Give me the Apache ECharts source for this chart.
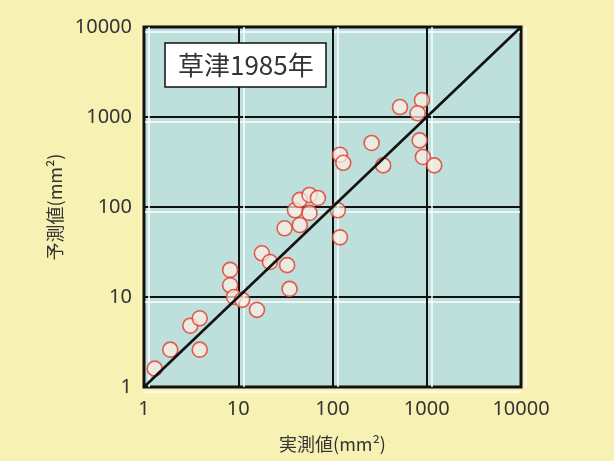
<!DOCTYPE html>
<html>
<head>
<meta charset="utf-8">
<style>
  html, body { margin: 0; padding: 0; background: #f7f1b4; }
  #chart { width: 614px; height: 461px; }
</style>
<script src="https://cdn.jsdelivr.net/npm/echarts@6/dist/echarts.min.js"></script>
</head>
<body>
<div id="chart"></div>
<script>
// Observed (実測値) vs. predicted (予測値) areas, mm², Kusatsu 1985
const observed  = [1.3, 1.9, 3.9, 3.1, 3.9, 8.2, 8.2, 9.0, 11, 15.8, 17.8, 21.7, 33, 35, 31, 40, 45, 57, 70, 57, 45, 114, 120, 120, 130, 260, 345, 520, 890, 800, 840, 910, 1200];
const predicted = [1.6, 2.6, 2.6, 4.8, 5.8, 20, 13.5, 10, 9.3, 7.2, 30.6, 24.5, 22.6, 12.3, 58, 92, 120, 136, 126, 86, 63, 92, 46, 380, 310, 515, 290, 1290, 1540, 1100, 550, 360, 290];
// 1:1 reference line
const identity = [1, 10000];
const titleText = '草津1985年';
const xName = '実測値(mm²)';
const yName = '予測値(mm²)';

const points = observed.map((v, i) => [v, predicted[i]]);
const line = identity.map(v => [v, v]);

const chart = echarts.init(document.getElementById('chart'));
const labelFont = { fontFamily: 'Noto Sans', fontSize: 20, color: '#333' };

chart.setOption({
  backgroundColor: '#f7f1b4',
  animation: false,
  title: {
    text: titleText,
    left: 165, top: 43,
    padding: [9, 13, 9, 13],
    backgroundColor: '#ffffff',
    borderColor: '#111',
    borderWidth: 1.5,
    textStyle: { fontFamily: 'Noto Sans CJK JP', fontSize: 26, fontWeight: 'normal', color: '#333' }
  },
  grid: {
    left: 144, right: 93, top: 27, bottom: 74,
    show: true,
    backgroundColor: '#bee0dc',
    borderColor: '#111',
    borderWidth: 3
  },
  xAxis: {
    type: 'log', logBase: 10, min: 1, max: 10000,
    name: xName, nameLocation: 'middle', nameGap: 48,
    nameTextStyle: { fontFamily: 'Noto Sans CJK JP', fontSize: 18, color: '#333' },
    axisLine: { show: false }, axisTick: { show: false },
    axisLabel: Object.assign({ margin: 12, formatter: v => String(Math.round(v)) }, labelFont),
    splitLine: { show: true, lineStyle: { color: '#111', width: 2, shadowColor: 'rgba(255,255,255,0.75)', shadowOffsetX: 5 } }
  },
  yAxis: {
    type: 'log', logBase: 10, min: 1, max: 10000,
    name: yName, nameLocation: 'middle', nameGap: 74, nameRotate: 90,
    nameTextStyle: { fontFamily: 'Noto Sans CJK JP', fontSize: 18, color: '#333' },
    axisLine: { show: false }, axisTick: { show: false },
    axisLabel: Object.assign({ margin: 12, formatter: v => String(Math.round(v)) }, labelFont),
    splitLine: { show: true, lineStyle: { color: '#111', width: 2, shadowColor: 'rgba(255,255,255,0.75)', shadowOffsetY: 5 } }
  },
  series: [
    {
      type: 'scatter',
      data: points,
      symbol: 'circle',
      symbolSize: 15,
      itemStyle: { color: 'rgba(252,238,228,0.9)', borderColor: '#e2382a', borderWidth: 1.6 },
      z: 2
    },
    {
      type: 'line',
      data: line,
      showSymbol: false,
      lineStyle: { color: '#111', width: 2.6 },
      z: 3
    }
  ]
});
</script>
</body>
</html>
